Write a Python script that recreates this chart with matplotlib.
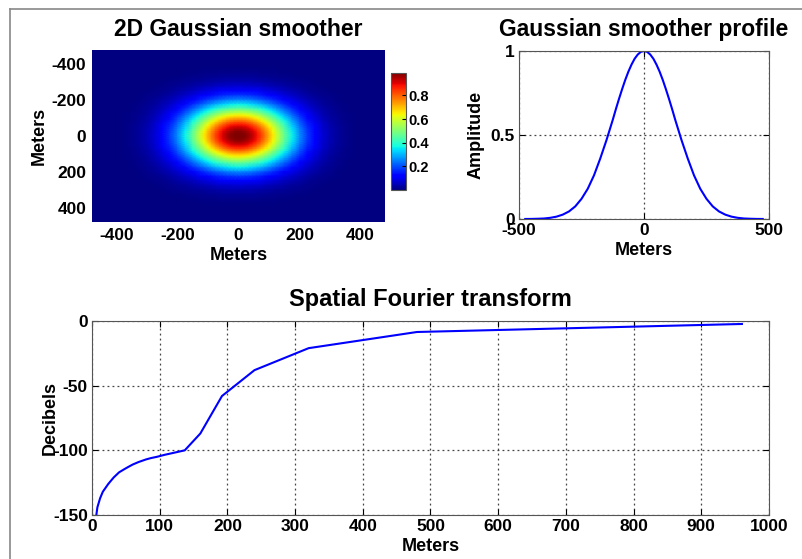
import numpy as np
import matplotlib
matplotlib.use("Agg")
import matplotlib.pyplot as plt
from matplotlib.lines import Line2D

plt.rcParams['font.family'] = ['Liberation Sans', 'DejaVu Sans']
plt.rcParams['font.weight'] = 'bold'
plt.rcParams['axes.unicode_minus'] = False

# gaussian profile (meters, amplitude)
profile_x = [-475, -450, -425, -400, -375, -350, -325, -300, -275, -250, -225, -200,
             -175, -150, -137.5, -125, -112.5, -100, -87.5, -75, -62.5, -50, -37.5,
             -25, -12.5, 0, 12.5, 25, 37.5, 50, 62.5, 75, 87.5, 100, 112.5, 125,
             137.5, 150, 175, 200, 225, 250, 275, 300, 325, 350, 375, 400, 425,
             450, 475]
profile_amp = [0.0002, 0.0005, 0.0015, 0.003, 0.007, 0.014, 0.026, 0.045, 0.075, 0.12,
               0.18, 0.26, 0.36, 0.47, 0.53, 0.59, 0.654, 0.715, 0.773, 0.828, 0.877,
               0.919, 0.954, 0.979, 0.995, 1.0, 0.995, 0.979, 0.954, 0.919, 0.877,
               0.828, 0.773, 0.715, 0.654, 0.59, 0.53, 0.47, 0.36, 0.26, 0.18, 0.12,
               0.075, 0.045, 0.026, 0.014, 0.007, 0.003, 0.0015, 0.0005, 0.0002]

# spatial fourier transform curve
fft_x = [6.4, 8, 12, 16, 24, 32, 40, 48, 53, 60, 69, 80, 87, 96, 107, 120, 137,
         160, 192, 240, 320, 480, 960]
fft_db = [-150, -144, -137, -132, -126, -121, -117, -114.5, -113, -111, -109, -107,
          -106, -105, -103.5, -102, -100, -87, -58, -38, -21, -8.5, -2.3]

W, H = 803, 559
fig = plt.figure(figsize=(W / 100, H / 100), dpi=100)

def box(l, t, r, b):
    return [l / W, 1 - b / H, (r - l) / W, (b - t) / H]

def style(ax):
    ax.tick_params(direction='in', length=4, labelsize=12.5, top=True, right=True, pad=3)
    for s in ax.spines.values():
        s.set_color('#555555')

# 2D smoother as outer product of the profile
amp = np.array(profile_amp)
px = np.array(profile_x)
smooth2d = np.outer(amp, amp)

ax1 = fig.add_axes(box(92, 50, 385, 222))
im = ax1.pcolormesh(px, px, smooth2d, cmap='jet', shading='gouraud', vmin=0, vmax=0.99)
ax1.set_xlim(-480, 480)
ax1.set_ylim(480, -480)
ax1.set_facecolor(plt.get_cmap('jet')(0.0))
ax1.set_xticks([-400, -200, 0, 200, 400])
ax1.set_yticks([-400, -200, 0, 200, 400])
style(ax1)
ax1.tick_params(length=0, pad=4)
for s in ax1.spines.values():
    s.set_visible(False)
ax1.set_xlabel('Meters', fontsize=13, fontweight='bold', labelpad=3)
ax1.set_ylabel('Meters', fontsize=13, fontweight='bold', labelpad=3)
ax1.set_title('2D Gaussian smoother', fontsize=16.5, fontweight='bold', pad=10)

cax = fig.add_axes(box(391, 73, 406, 190))
cb = fig.colorbar(im, cax=cax)
cb.set_ticks([0.2, 0.4, 0.6, 0.8])
cax.tick_params(direction='in', length=3, labelsize=10.5, pad=2)
cb.outline.set_edgecolor('#555555')

ax2 = fig.add_axes(box(519, 51, 769, 219))
ax2.plot(profile_x, profile_amp, color='blue', lw=1.5)
ax2.set_xlim(-500, 500)
ax2.set_ylim(0, 1)
ax2.set_xticks([-500, 0, 500])
ax2.set_yticks([0, 0.5, 1])
ax2.set_yticklabels(['0', '0.5', '1'])
ax2.grid(True, linestyle=(0, (1.5, 2.5)), color='#444444', lw=0.9)
style(ax2)
ax2.set_xlabel('Meters', fontsize=13, fontweight='bold', labelpad=3)
ax2.set_ylabel('Amplitude', fontsize=13, fontweight='bold', labelpad=4)
ax2.set_title('Gaussian smoother profile', fontsize=16.5, fontweight='bold', pad=11)

ax3 = fig.add_axes(box(92, 321, 769, 515))
ax3.plot(fft_x, fft_db, color='blue', lw=1.5)
ax3.set_xlim(0, 1000)
ax3.set_ylim(-150, 0)
ax3.set_xticks(range(0, 1001, 100))
ax3.set_yticks([-150, -100, -50, 0])
ax3.grid(True, linestyle=(0, (1.5, 2.5)), color='#444444', lw=0.9)
style(ax3)
ax3.set_xlabel('Meters', fontsize=13, fontweight='bold', labelpad=3)
ax3.set_ylabel('Decibels', fontsize=13, fontweight='bold', labelpad=-4)
ax3.set_title('Spatial Fourier transform', fontsize=17, fontweight='bold', pad=11)

# screenshot frame
fig.add_artist(Line2D([10 / W, 10 / W], [0, 1 - 9 / H], color='#888888', lw=1.2))
fig.add_artist(Line2D([10 / W, 1], [1 - 9 / H, 1 - 9 / H], color='#888888', lw=1.2))

fig.savefig('out.png', dpi=100)
